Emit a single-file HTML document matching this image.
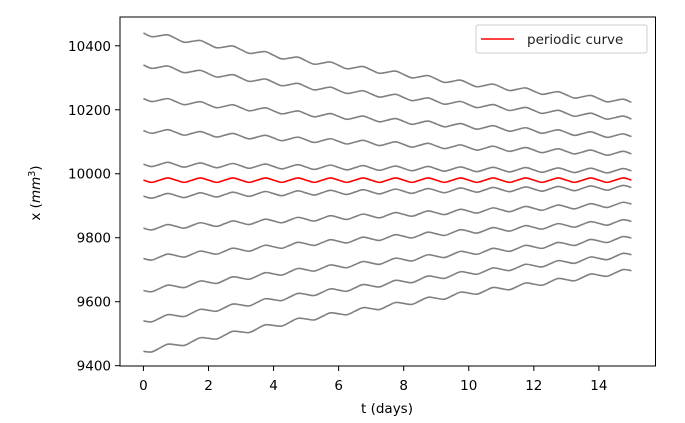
<!DOCTYPE html>
<html><head><meta charset="utf-8"><style>
html,body{margin:0;padding:0;background:#fff;}
svg{display:block;font-family:"DejaVu Sans","Liberation Sans",sans-serif;}
</style></head><body>
<svg id="chart" width="685" height="423" viewBox="0 0 685 423" xmlns="http://www.w3.org/2000/svg">
<rect x="0" y="0" width="685" height="423" fill="#fff"/>
<g id="plot"></g>
<rect x="120" y="17" width="535.5" height="349" fill="none" stroke="#000" stroke-width="1"/>
<g id="ticks"></g>
<text x="387" y="413" font-size="13.5" text-anchor="middle">t (days)</text>
<text transform="translate(40,193) rotate(-90)" font-size="13.5" text-anchor="middle">x (<tspan font-style="italic">mm</tspan><tspan font-size="9.5" dy="-5">3</tspan><tspan dy="5">)</tspan></text>
<g>
<rect x="476" y="25" width="171" height="28" rx="2" fill="#fff" stroke="#ccc" stroke-width="1"/>
<line x1="481" y1="39" x2="514" y2="39" stroke="#ff0000" stroke-width="1.6"/>
<text x="527" y="44" font-size="13.5" fill="#222">periodic curve</text>
</g>
</svg>
<script>
// periodic curve samples every 0.25 day, t = 0..15
const periodicValues = [9980,9973,9980,9987,9980,9973,9980,9987,9980,9973,9980,9987,9980,9973,9980,9987,9980,9973,9980,9987,9980,9973,9980,9987,9980,9973,9980,9987,9980,9973,9980,9987,9980,9973,9980,9987,9980,9973,9980,9987,9980,9973,9980,9987,9980,9973,9980,9987,9980,9973,9980,9987,9980,9973,9980,9987,9980,9973,9980,9987,9980];
// days at which the gray curve offsets are sampled
const offsetDays = [0,5,10,15];
// offsets of each gray curve from the periodic curve
const offset1 = [460,373,302,243];
const offset2 = [360,292,236,191];
const offset3 = [255,207,168,136];
const offset4 = [155,126,102,82];
const offset5 = [50,41,34,29];
const offset6 = [-50,-40,-31,-23];
const offset7 = [-150,-122,-97,-75];
const offset8 = [-245,-199,-160,-129];
const offset9 = [-345,-280,-227,-181];
const offset10 = [-440,-357,-290,-233];
const offset11 = [-535,-434,-353,-283];
const grayOffsets = [offset1,offset2,offset3,offset4,offset5,offset6,offset7,offset8,offset9,offset10,offset11];
const xTicks = [0,2,4,6,8,10,12,14];
const yTicks = [9400,9600,9800,10000,10200,10400];

const X0=120,X1=655.5,Y0=366,Y1=17;
const xMin=-0.72,xMax=15.74,yMin=9399,yMax=10490;
function sx(t){return X0+(t-xMin)/(xMax-xMin)*(X1-X0);}
function sy(v){return Y0-(v-yMin)/(yMax-yMin)*(Y0-Y1);}
const step=15/(periodicValues.length-1);
function interpOffset(arr,t){
  for(let i=0;i<offsetDays.length-1;i++){
    if(t<=offsetDays[i+1]){const f=(t-offsetDays[i])/(offsetDays[i+1]-offsetDays[i]);return arr[i]+f*(arr[i+1]-arr[i]);}
  }
  return arr[arr.length-1];
}
const NS="http://www.w3.org/2000/svg";
const plot=document.getElementById('plot');
function pathFrom(vals){
  // smooth via Catmull-Rom
  const pts=vals.map((v,i)=>[sx(i*step),sy(v)]);
  let d='M'+pts[0][0].toFixed(2)+','+pts[0][1].toFixed(2);
  for(let i=0;i<pts.length-1;i++){
    const p0=pts[Math.max(0,i-1)],p1=pts[i],p2=pts[i+1],p3=pts[Math.min(pts.length-1,i+2)];
    const c1=[p1[0]+(p2[0]-p0[0])/6,p1[1]+(p2[1]-p0[1])/6];
    const c2=[p2[0]-(p3[0]-p1[0])/6,p2[1]-(p3[1]-p1[1])/6];
    d+='C'+c1[0].toFixed(2)+','+c1[1].toFixed(2)+' '+c2[0].toFixed(2)+','+c2[1].toFixed(2)+' '+p2[0].toFixed(2)+','+p2[1].toFixed(2);
  }
  return d;
}
grayOffsets.forEach((arr,k)=>{
  const vals=periodicValues.map((v,i)=>v+interpOffset(arr,i*step));
  const p=document.createElementNS(NS,'path');
  p.setAttribute('d',pathFrom(vals));
  p.setAttribute('fill','none');p.setAttribute('stroke','#808080');p.setAttribute('stroke-width','1.6');
  
  
  plot.appendChild(p);
});
const red=document.createElementNS(NS,'path');
red.setAttribute('d',pathFrom(periodicValues));
red.setAttribute('fill','none');red.setAttribute('stroke','#ff0000');red.setAttribute('stroke-width','1.6');


plot.appendChild(red);

const tg=document.getElementById('ticks');
xTicks.forEach(t=>{
  const x=sx(t);
  const l=document.createElementNS(NS,'line');
  l.setAttribute('x1',x);l.setAttribute('x2',x);l.setAttribute('y1',366);l.setAttribute('y2',371);l.setAttribute('stroke','#000');
  
  
  tg.appendChild(l);
  const tx=document.createElementNS(NS,'text');
  tx.setAttribute('x',x);tx.setAttribute('y',390);tx.setAttribute('font-size','13.5');tx.setAttribute('text-anchor','middle');
  tx.textContent=t;
  
  
  tg.appendChild(tx);
});
yTicks.forEach(v=>{
  const y=sy(v);
  const l=document.createElementNS(NS,'line');
  l.setAttribute('x1',115);l.setAttribute('x2',120);l.setAttribute('y1',y);l.setAttribute('y2',y);l.setAttribute('stroke','#000');
  
  
  tg.appendChild(l);
  const tx=document.createElementNS(NS,'text');
  tx.setAttribute('x',111);tx.setAttribute('y',y+5);tx.setAttribute('font-size','13.5');tx.setAttribute('text-anchor','end');
  tx.textContent=v;
  
  
  tg.appendChild(tx);
});
</script>
</body></html>
